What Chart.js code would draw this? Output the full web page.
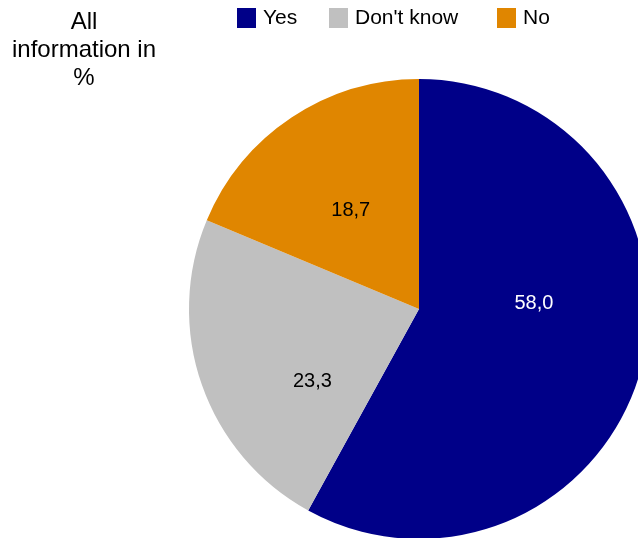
<!DOCTYPE html>
<html>
<head>
<meta charset="utf-8">
<script src="https://cdn.jsdelivr.net/npm/chart.js@4.4.1/dist/chart.umd.min.js"></script>
<style>
  html, body { margin: 0; padding: 0; background: #fff; overflow: hidden; }
  #wrap { position: relative; width: 638px; height: 538px; overflow: hidden; }
  #c { position: absolute; left: 0; top: 0; }
</style>
</head>
<body>
<div id="wrap"><canvas id="c" width="660" height="560"></canvas></div>
<script>
const categories = ['Yes', "Don't know", 'No'];
const shares = [58.0, 23.3, 18.7];
const sliceColors = ['#000088', '#c0c0c0', '#e08600'];
const labelColors = ['#ffffff', '#000000', '#000000'];
const titleLines = ['All', 'information in', '%'];

const FONT = '"Liberation Sans", Arial, sans-serif';

// labels + legend + side title, drawn on the chart canvas
const decor = {
    id: 'decor',
    afterDatasetsDraw(chart) {
        const ctx = chart.ctx;
        const meta = chart.getDatasetMeta(0);
        const nudge = [[0.50, -0.30], [0.56, -0.26], [0.52, -0.02]]; // radius fraction, angle shift (rad)
        ctx.save();
        ctx.font = '20px ' + FONT;
        ctx.textAlign = 'center';
        ctx.textBaseline = 'middle';
        meta.data.forEach((arc, i) => {
            const p = arc.getProps(['x', 'y', 'startAngle', 'endAngle', 'outerRadius'], true);
            const a = (p.startAngle + p.endAngle) / 2 + nudge[i][1];
            const r = p.outerRadius * nudge[i][0];
            ctx.fillStyle = labelColors[i];
            ctx.fillText(shares[i].toFixed(1).replace('.', ','), p.x + Math.cos(a) * r, p.y + Math.sin(a) * r);
        });

        // legend
        const legX = [237, 329, 497];
        ctx.font = '21px ' + FONT;
        ctx.textAlign = 'left';
        categories.forEach((name, i) => {
            ctx.fillStyle = sliceColors[i];
            ctx.fillRect(legX[i], 8, 19, 20);
            ctx.fillStyle = '#000';
            ctx.fillText(name, legX[i] + 26, 18);
        });

        // title at the left
        ctx.font = '24px ' + FONT;
        ctx.textAlign = 'center';
        titleLines.forEach((t, i) => ctx.fillText(t, 84, 22 + i * 28));
        ctx.restore();
    }
};

new Chart(document.getElementById('c'), {
    type: 'pie',
    data: {
        labels: categories,
        datasets: [{ data: shares, backgroundColor: sliceColors, borderWidth: 0, hoverOffset: 0 }]
    },
    options: {
        responsive: false,
        animation: false,
        layout: { padding: { left: 189, top: 79, right: 11, bottom: 21 } },
        plugins: { legend: { display: false }, tooltip: { enabled: false } }
    },
    plugins: [decor]
});
</script>
</body>
</html>
